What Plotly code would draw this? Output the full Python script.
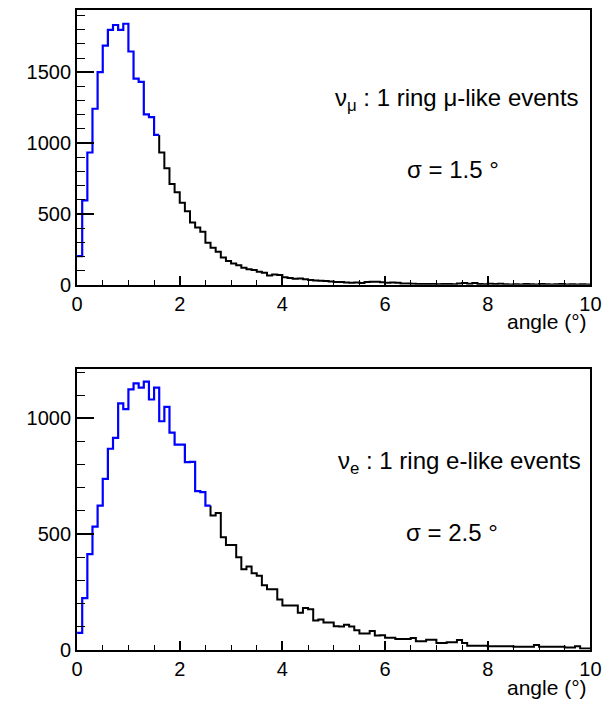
import numpy as np
import plotly.graph_objects as go

# ---------------- data ----------------
bin_width = 0.1
x_min, x_max = 0.0, 10.0

mu_counts = [
    203, 596, 934, 1243, 1502, 1689, 1799, 1834, 1799, 1843,
    1647, 1455, 1432, 1203, 1184, 1058, 934, 822, 712, 654,
    580, 520, 440, 405, 374, 297, 262, 234, 192, 168,
    150, 138, 121, 110, 105, 92, 85, 66, 72, 70,
    53, 48, 42, 45, 40, 34, 30, 28, 27, 24,
    20, 19, 16, 14, 16, 13, 20, 22, 21, 18,
    15, 16, 14, 9, 9, 8, 5, 6, 5, 5,
    4, 5, 5, 4, 10, 12, 8, 12, 6, 4,
    7, 6, 7, 4, 3, 4, 3, 5, 4, 3,
    6, 4, 3, 4, 5, 3, 4, 3, 4, 3,
]
mu_blue_bins = 16   # bins drawn in blue (68% region)

e_counts = [
    72, 223, 413, 532, 623, 739, 869, 916, 1065, 1040,
    1126, 1152, 1133, 1159, 1082, 1133, 988, 1050, 939, 887,
    887, 811, 812, 686, 681, 623, 580, 591, 486, 452,
    452, 399, 348, 360, 330, 319, 278, 261, 261, 217,
    191, 191, 191, 159, 180, 175, 126, 130, 117, 117,
    101, 100, 108, 100, 84, 70, 70, 80, 61, 62,
    51, 51, 46, 46, 46, 50, 36, 36, 43, 43,
    29, 29, 32, 32, 42, 28, 17, 17, 17, 17,
    14, 14, 14, 14, 14, 12, 12, 12, 12, 20,
    12, 12, 12, 12, 12, 9, 9, 14, 5, 5,
]
e_blue_bins = 26

mu_ymax = 1940
e_ymax = 1215

mu_label = "ν<sub>μ</sub> : 1 ring μ-like events"
mu_sigma = "σ = 1.5 °"
e_label = "ν<sub>e</sub> : 1 ring e-like events"
e_sigma = "σ = 2.5 °"
x_title = "angle (°)"

# ---------------- figure ----------------
W, H = 615, 704
FONT = "Liberation Sans, Arial, sans-serif"
BLUE = "#0000ff"
S = 0.985  # empirical render scale compensation

fig = go.Figure()


def add_hist(counts, nblue, xa, ya):
    n = len(counts)
    edges = np.linspace(x_min, x_min + n * bin_width, n + 1)
    xb = list(edges[: nblue + 1])
    yb = list(counts[:nblue]) + [counts[nblue - 1]]
    xk = [edges[nblue]] + list(edges[nblue:])
    yk = [counts[nblue - 1]] + list(counts[nblue:]) + [counts[-1]]
    fig.add_trace(go.Scatter(x=xk, y=yk, mode="lines", line_shape="hv",
                             line=dict(color="black", width=2),
                             xaxis=xa, yaxis=ya, showlegend=False, hoverinfo="skip"))
    fig.add_trace(go.Scatter(x=xb, y=yb, mode="lines", line_shape="hv",
                             line=dict(color=BLUE, width=2.2),
                             xaxis=xa, yaxis=ya, showlegend=False, hoverinfo="skip"))


add_hist(mu_counts, mu_blue_bins, "x", "y")
add_hist(e_counts, e_blue_bins, "x2", "y2")

px_l, px_r = 72, 592
top_t, top_b = 10, 285
bot_t, bot_b = 369, 650


def px2x(p):
    return min(1.0, (p / S) / W)


def px2y(p):
    return max(0.0, 1 - (p / S) / H)


xdom = [px2x(px_l), px2x(px_r)]

common_x = dict(
    range=[x_min, x_max], domain=xdom, showgrid=False, zeroline=False,
    showline=True, linecolor="black", linewidth=2, mirror=True,
    ticks="inside", ticklen=9, tickwidth=1.5, tickcolor="black",
    tick0=0, dtick=2,
    minor=dict(ticks="inside", ticklen=5, tickwidth=1.2, tickcolor="black", dtick=0.5),
    tickfont=dict(family=FONT, size=20, color="black"),
)
common_y = dict(
    showgrid=False, zeroline=False,
    showline=True, linecolor="black", linewidth=2, mirror=True,
    ticks="inside", ticklen=17, tickwidth=1.5, tickcolor="black",
    tick0=0, dtick=500,
    minor=dict(ticks="inside", ticklen=8, tickwidth=1.2, tickcolor="black", dtick=100),
    tickfont=dict(family=FONT, size=20, color="black"),
)

fig.update_layout(
    width=W, height=H,
    margin=dict(l=0, r=0, t=0, b=0),
    paper_bgcolor="white", plot_bgcolor="white",
    xaxis=dict(common_x, anchor="y"),
    yaxis=dict(common_y, range=[0, mu_ymax], domain=[px2y(top_b), px2y(top_t)], anchor="x"),
    xaxis2=dict(common_x, anchor="y2"),
    yaxis2=dict(common_y, range=[0, e_ymax], domain=[px2y(bot_b), px2y(bot_t)], anchor="x2"),
)

ann_font = dict(family=FONT, size=24, color="black")
fig.add_annotation(xref="paper", yref="paper", x=px2x(582), y=px2y(100),
                   xanchor="right", yanchor="middle", text=mu_label, showarrow=False, font=ann_font)
fig.add_annotation(xref="paper", yref="paper", x=px2x(453), y=px2y(170),
                   xanchor="center", yanchor="middle", text=mu_sigma, showarrow=False, font=ann_font)
fig.add_annotation(xref="paper", yref="paper", x=px2x(585), y=px2y(463),
                   xanchor="right", yanchor="middle", text=e_label, showarrow=False, font=ann_font)
fig.add_annotation(xref="paper", yref="paper", x=px2x(452), y=px2y(533),
                   xanchor="center", yanchor="middle", text=e_sigma, showarrow=False, font=ann_font)

title_font = dict(family=FONT, size=21, color="black")
fig.add_annotation(xref="paper", yref="paper", x=px2x(591), y=px2y(322),
                   xanchor="right", yanchor="middle", text=x_title, showarrow=False, font=title_font)
fig.add_annotation(xref="paper", yref="paper", x=px2x(591), y=px2y(688),
                   xanchor="right", yanchor="middle", text=x_title, showarrow=False, font=title_font)

fig.write_html(
    "out.html",
    post_script="document.body.style.margin='0';document.body.style.overflow='hidden';",
)
